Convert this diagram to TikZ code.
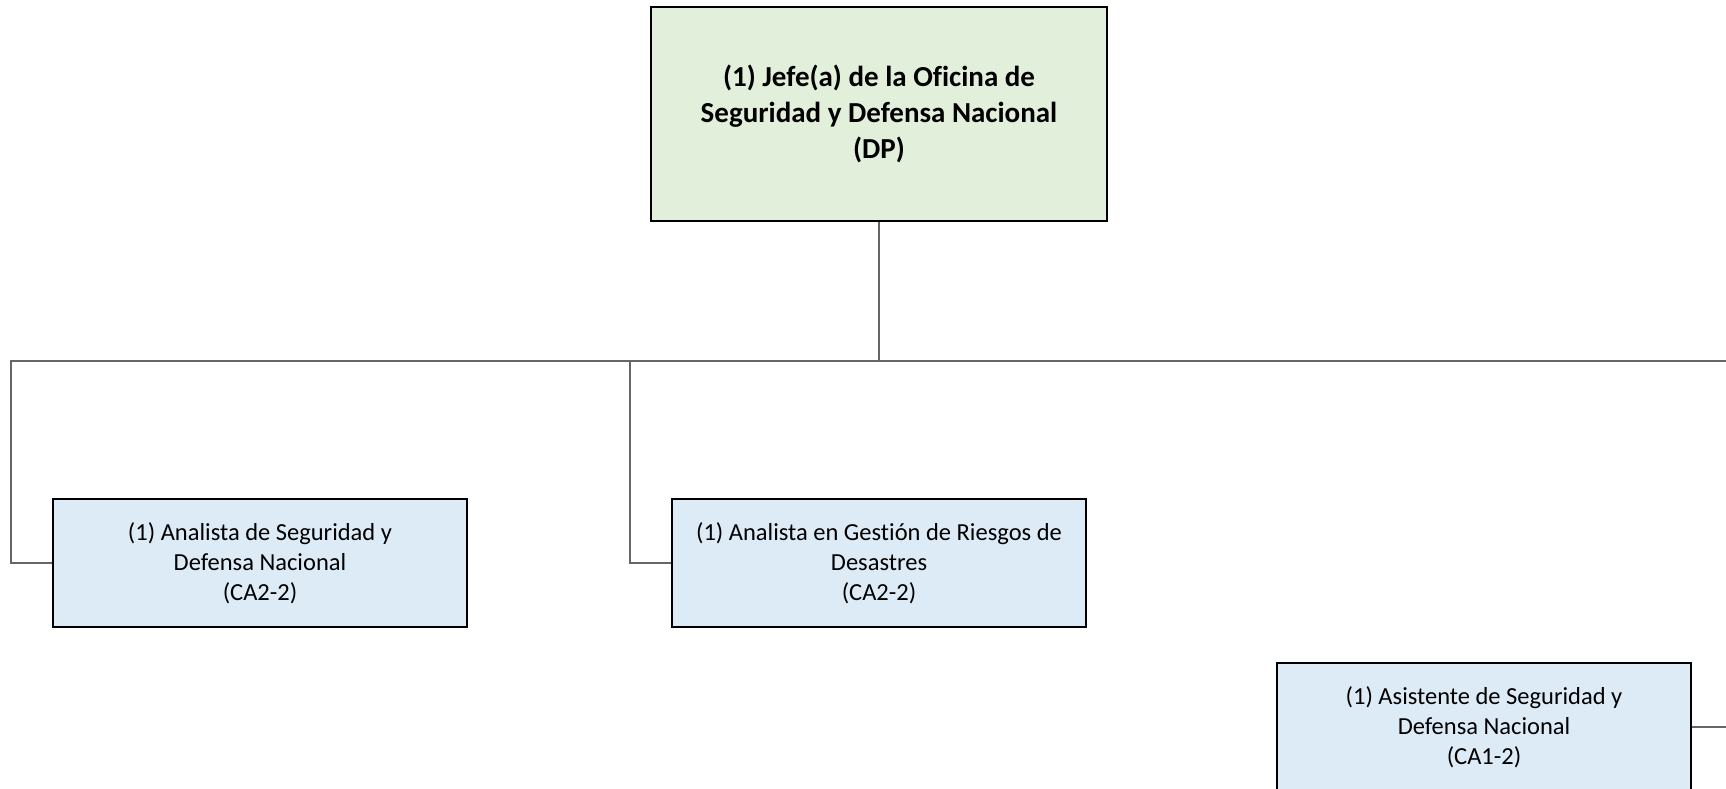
\documentclass[tikz,border=0pt]{standalone}
\usepackage{fontspec}
\setmainfont{Carlito}[Ligatures=NoCommon]
\usepackage{tikz}
\usetikzlibrary{shapes.geometric, backgrounds}
\definecolor{chieffill}{RGB}{226,239,218}
\definecolor{stafffill}{RGB}{221,235,247}
\tikzstyle{chief} = [rectangle, draw, line width=2pt, fill=chieffill, align=center, minimum width=456pt, minimum height=214pt, font=\fontsize{29}{36}\selectfont\bfseries]
\tikzstyle{staff} = [rectangle, draw, line width=2pt, fill=stafffill, align=center, minimum width=414pt, minimum height=128pt, font=\fontsize{24.5}{30}\selectfont]
\tikzstyle{link} = [draw=black!60, line width=1.5pt]

\begin{document}
\begin{tikzpicture}[x=1pt, y=-1pt]
    \useasboundingbox (0,0) rectangle (1726,789);

        % nodes
        \node (jefe) [chief] at (879,114) {(1) Jefe(a) de la Oficina de\\Seguridad y Defensa Nacional\\(DP)};
        \node (analista_grd) [staff, below of=jefe, node distance=449pt] {(1) Analista en Gestión de Riesgos de\\Desastres\\(CA2-2)};
        \node (analista_sdn) [staff, left of=analista_grd, node distance=619pt] {(1) Analista de Seguridad y\\Defensa Nacional\\(CA2-2)};
        \node (asistente_sdn) [staff, right of=analista_grd, node distance=605pt, yshift=-164pt] {(1) Asistente de Seguridad y\\Defensa Nacional\\(CA1-2)};
        \coordinate (bus) at (879,361);
        \coordinate (bus_end) at (1726,361);
        \coordinate (asistente_end) at (1726,727);

        % edges
        \draw [link] (jefe.south) -- (bus);
        \draw [link] (bus) -| ([xshift=-41pt]analista_sdn.west) -- (analista_sdn.west);
        \draw [link] (bus) -| ([xshift=-41pt]analista_grd.west) -- (analista_grd.west);
        \draw [link] (bus) -- (bus_end);
        \draw [link] (asistente_sdn.east) -- (asistente_end);

    \end{tikzpicture}
\end{document}
